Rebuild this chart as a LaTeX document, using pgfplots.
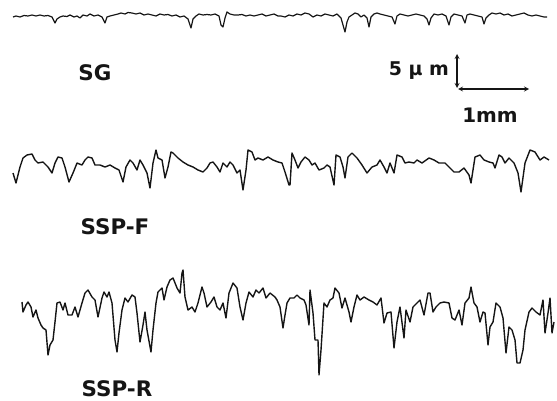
\documentclass[border=0pt]{standalone}
\usepackage{pgfplots}
\pgfplotsset{compat=1.18}
\usepackage{fontspec}
\setmainfont{DejaVu Sans}
\definecolor{ink}{HTML}{151515}
\begin{document}
\begin{tikzpicture}
\begin{axis}[
  width=557bp, height=401bp, scale only axis,
  xmin=0, xmax=557, ymin=0, ymax=401, y dir=reverse,
  hide axis, clip=false,
]
\path (axis cs:0,0) (axis cs:557,401);
% SG
\addplot[ink, line width=1.2pt, line join=round] coordinates {
(13,17)(16,16)(20,17)(24,15.5)(28,16)(32,15)(36,16)(40,15)(44,16)(48,15.5)(52,17)(55,23)(57,19)(60,17)(63,16)(67,16.5)(70,15)(74,17)(77,16)(80,18)(83,15)(87,16)(90,14)(94,16)(98,15)(102,17)(105,23)(107,17)(110,16)(114,15)(118,14)(121,13)(125,14)(128,12.5)(132,13)(136,14)(140,13)(144,15)(148,14)(152,15)(156,16)(160,14)(164,15)(168,14.5)(172,16)(176,15)(180,17)(184,16)(188,19)(191,28)(193,19)(196,16)(199,14)(203,15)(207,14.5)(211,15)(215,14)(219,16)(221,25)(223,27)(225,18)(227,12)(230,14)(234,15)(238,15)(242,14.5)(246,16)(250,15)(254,16)(258,15)(262,14)(266,16)(270,15)(274,14)(278,16)
(281,16)(285,17)(289,15)(293,16)(297,14)(301,15)(305,13)(309,14)(313,17)(317,15)(321,16)(325,14)(329,15)(333,16)(337,14)(341,18)(343,25)(345,32)(347,22)(349,17)(352,15)(355,13)(358,14)(361,17)(364,15)(367,18)(369,27)(371,17)(374,14)(377,13)(380,14)(384,15)(388,16)(392,17)(395,24)(397,16)(400,14)(404,15)(408,16)(412,15)(416,14)(420,15)(424,16)(427,19)(429,25)(431,18)(434,14)(438,15)(442,14)(446,16)(449,25)(451,17)(454,14)(458,15)(462,16)(465,23)(467,15)(470,14)(474,15)(478,16)(482,17)(484,24)(486,18)(489,15)(492,13)(496,14)(500,13)(504,15)(508,14)(512,16)(516,15)(520,14)(524,13)(528,15)(532,16)(536,15)(540,16)(544,17)(547,17)
};
% SSP-F
\addplot[ink, line width=1.4pt, line join=round] coordinates {
(13,173)(16,183)(20,167)(23,158)(27,155)(32,154)(35,160)(38,163)(43,162)(48,167)(52,173)(55,163)(58,157)(62,158)(65,167)(69,182)(73,173)(77,163)(82,165)(85,160)(88,157)(92,158)(95,165)(100,165)(105,167)(110,165)(115,168)(119,170)(123,182)(126,167)(130,160)(133,163)(137,170)(140,160)(143,165)(147,173)(150,188)(153,163)(156,150)(158,158)(162,160)(165,178)(168,167)(171,152)(173,153)(178,158)(183,162)(188,165)(193,167)(198,170)(203,172)(207,168)(210,163)(213,162)(217,167)(220,172)(223,163)(227,167)(230,162)(233,165)(237,173)(240,170)(243,190)(246,170)(248,150)(252,152)(255,160)(258,158)(263,160)(268,157)(273,160)(278,162)
(282,163)(285,172)(289,185)(290,185)(292,153)(295,160)(298,168)(301,162)(305,157)(309,160)(312,165)(315,163)(319,170)(324,168)(327,165)(330,167)(334,185)(336,155)(340,157)(343,167)(345,178)(348,157)(352,153)(357,158)(362,165)(367,173)(372,167)(377,165)(380,160)(384,167)(387,173)(390,163)(394,173)(397,155)(402,157)(405,163)(409,162)(414,163)(417,160)(422,163)(429,158)(434,160)(439,163)(445,163)(450,168)(454,172)(459,172)(464,168)(469,175)(471,183)(475,157)(480,155)(484,160)(489,162)(493,163)(495,168)(499,155)(502,157)(505,163)(509,158)(514,163)(518,173)(521,192)(525,163)(530,150)(535,152)(540,160)(544,157)(549,160)
};
% SSP-R
\addplot[ink, line width=1.4pt, line join=round] coordinates {
(22,302)(23,312)(26,305)(28,302)(31,307)(33,317)(36,310)(38,318)(41,325)(43,328)(46,330)(48,355)(50,345)(53,340)(55,322)(57,303)(60,302)(63,310)(65,303)(68,315)(72,315)(75,307)(78,317)(82,303)(85,293)(88,290)(92,297)(95,300)(98,317)(102,298)(104,292)(107,297)(109,292)(112,303)(115,340)(117,352)(119,333)(122,310)(125,298)(128,302)(132,295)(135,297)(137,313)(140,342)(143,325)(145,312)(147,330)(151,352)(153,330)(156,303)(158,292)(162,288)(164,300)(167,287)(170,280)(173,278)(175,283)(177,288)(180,293)(182,273)(183,270)(185,297)(188,310)(192,307)(195,312)(198,303)(202,287)(204,293)(207,307)(211,302)(214,297)(217,307)(220,310)(223,303)(226,318)(229,293)(233,283)(237,288)(240,307)(243,320)(246,303)(249,292)(253,297)(256,290)(259,293)(263,288)(266,298)(270,293)(275,297)
(277,300)(280,307)(283,328)(285,315)(287,303)(290,298)(294,298)(297,295)(300,298)(304,300)(306,305)(309,325)(310,290)(313,313)(315,340)(318,340)(319,375)(321,350)(324,303)(327,307)(330,300)(333,298)(335,288)(339,293)(342,308)(345,298)(349,312)(351,322)(354,307)(357,295)(360,300)(364,297)(369,300)(373,302)(377,305)(381,298)(384,323)(387,313)(391,312)(394,348)(397,322)(400,307)(404,338)(406,310)(410,322)(413,307)(417,303)(420,300)(424,315)(428,293)(430,293)(433,312)(436,307)(440,303)(444,302)(449,303)(452,318)(455,320)(459,310)(462,325)(465,303)(469,298)(471,287)(474,303)(477,307)(480,322)(483,312)(485,313)(488,345)(490,327)(493,322)(496,303)(500,307)(503,318)(506,353)(509,327)(512,330)(515,340)(517,363)(520,363)(523,350)(525,330)(529,312)(532,308)(536,312)(540,315)(543,300)(545,333)(548,313)(550,298)(552,333)(554,322)
};
% labels
\node[font=\fontsize{21.5}{24}\selectfont\bfseries, text=ink] at (axis cs:95,73) {SG};
\node[font=\fontsize{21.5}{24}\selectfont\bfseries, text=ink] at (axis cs:115,227) {SSP-F};
\node[font=\fontsize{21.5}{24}\selectfont\bfseries, text=ink] at (axis cs:117,389) {SSP-R};
\node[font=\fontsize{19}{21}\selectfont\bfseries, text=ink, anchor=east, inner sep=0pt] at (axis cs:449,71) {5 μ m};
\node[font=\fontsize{20}{22}\selectfont\bfseries, text=ink] at (axis cs:490,115) {1mm};
% scale bar
\draw[ink, line width=1.2pt, <->, >=stealth] (axis cs:457,54) -- (axis cs:457,88);
\draw[ink, line width=1.2pt, <->, >=stealth] (axis cs:458,89) -- (axis cs:529,89);
\end{axis}
\end{tikzpicture}
\end{document}
